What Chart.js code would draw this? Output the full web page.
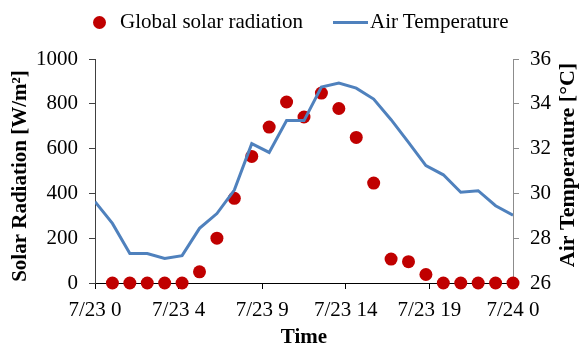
<!DOCTYPE html>
<html>
<head>
<meta charset="utf-8">
<script src="https://cdn.jsdelivr.net/npm/chart.js@4/dist/chart.umd.min.js"></script>
<style>
  body { margin: 0; background: #fff; }
  #wrap { position: relative; width: 579px; height: 344px; }
  #legend { position: absolute; left: 0; top: 0; width: 579px; height: 40px;
    font-family: "Liberation Serif", "Times New Roman", serif; font-size: 21px; color: #000; }
  #legend span { position: absolute; line-height: 21px; white-space: nowrap; }
  .dot { position: absolute; left: 93px; top: 16px; width: 13px; height: 13px;
    border-radius: 50%; background: #c00000; }
  .bar { position: absolute; left: 333px; top: 21px; width: 35px; height: 3px; background: #4f81bd; }
</style>
</head>
<body>
<div id="wrap">
  <canvas id="graph" width="579" height="344"></canvas>
  <div id="legend">
    <div class="dot"></div><span style="left:120px;top:11px">Global solar radiation</span>
    <div class="bar"></div><span style="left:370px;top:11px">Air Temperature</span>
  </div>
</div>
<script>
// hours from 7/23 0:00
const solarHours = [1, 2, 3, 4, 5, 6, 7, 8, 9, 10, 11, 12, 13, 14, 15, 16, 17, 18, 19, 20, 21, 22, 23, 24];
const solarRadiation = [0, 0, 0, 0, 0, 50, 200, 378, 565, 696, 808, 741, 848, 779, 650, 446, 107, 95, 38, 0, 0, 0, 0, 0];

const tempHours = [0, 1, 2, 3, 4, 5, 6, 7, 8, 9, 10, 11, 12, 13, 14, 15, 16, 17, 18, 19, 20, 21, 22, 23, 24];
const airTemperature = [29.63, 28.66, 27.32, 27.32, 27.1, 27.22, 28.44, 29.1, 30.15, 32.22, 31.83, 33.25, 33.25,
  34.75, 34.93, 34.7, 34.21, 33.29, 32.28, 31.24, 30.83, 30.05, 30.12, 29.45, 29.03];

const xTickValues = [0, 4.8, 9.6, 14.4, 19.2, 24];
const xTickLabels = ["7/23 0", "7/23 4", "7/23 9", "7/23 14", "7/23 19", "7/24 0"];

const serif = "'Liberation Serif', 'Times New Roman', serif";

// both vertical axis titles read bottom to top
const sideTitles = {
  id: "sideTitles",
  afterDraw(chart) {
    const ctx = chart.ctx;
    const titles = [
      { text: "Solar Radiation [W/m²]", x: 21, y: 176, size: 21 },
      { text: "Air Temperature [°C]", x: 568, y: 165, size: 22 },
    ];
    ctx.save();
    ctx.fillStyle = "#000";
    ctx.textAlign = "center";
    ctx.textBaseline = "middle";
    titles.forEach((t) => {
      ctx.save();
      ctx.font = "bold " + t.size + "px " + serif;
      ctx.translate(t.x, t.y);
      ctx.rotate(-Math.PI / 2);
      ctx.fillText(t.text, 0, 0);
      ctx.restore();
    });
    ctx.restore();
  },
};

function generateGraph() {
  const ctx = document.getElementById("graph").getContext("2d");
  new Chart(ctx, {
    data: {
      datasets: [
        {
          type: "line",
          label: "Air Temperature",
          data: tempHours.map((h, i) => ({ x: h, y: airTemperature[i] })),
          yAxisID: "y1",
          borderColor: "#4f81bd",
          borderWidth: 3,
          pointRadius: 0,
          tension: 0,
          order: 0,
        },
        {
          type: "scatter",
          label: "Global solar radiation",
          data: solarHours.map((h, i) => ({ x: h, y: solarRadiation[i] })),
          yAxisID: "y",
          backgroundColor: "#c00000",
          borderWidth: 0,
          pointRadius: 6.5,
          clip: false,
          order: 1,
        },
      ],
    },
    options: {
      responsive: false,
      animation: false,
      devicePixelRatio: 1,
      layout: { padding: { top: 59, left: 0, right: 0, bottom: 0 } },
      plugins: { legend: { display: false }, tooltip: { enabled: false } },
      scales: {
        x: {
          type: "linear",
          min: 0,
          max: 24,
          afterBuildTicks: (scale) => {
            scale.ticks = xTickValues.map((v) => ({ value: v }));
          },
          afterFit: (scale) => {
            scale.height = 61;
          },
          grid: { drawOnChartArea: false, color: "#000", tickLength: 6 },
          border: { color: "#000", width: 1 },
          ticks: {
            color: "#000",
            font: { family: serif, size: 21 },
            padding: 9,
            maxRotation: 0,
            autoSkip: false,
            callback: (value, index) => xTickLabels[index],
          },
          title: {
            display: true,
            text: "Time",
            color: "#000",
            font: { family: serif, size: 21, weight: "bold", lineHeight: 1 },
            padding: { top: 0, bottom: -4 },
          },
        },
        y: {
          position: "left",
          min: 0,
          max: 1000,
          afterFit: (scale) => {
            scale.width = 95;
          },
          grid: { drawOnChartArea: false, color: "#404040", tickLength: 6 },
          border: { color: "#404040", width: 1 },
          ticks: {
            stepSize: 200,
            color: "#000",
            font: { family: serif, size: 21 },
            padding: 11,
            callback: (value) => String(value),
          },
        },
        y1: {
          position: "right",
          min: 26,
          max: 36,
          afterFit: (scale) => {
            scale.width = 66;
          },
          grid: { drawOnChartArea: false, color: "#8c8c8c", tickLength: 6 },
          border: { color: "#8c8c8c", width: 1 },
          ticks: {
            stepSize: 2,
            color: "#000",
            font: { family: serif, size: 21 },
            padding: 11,
          },
        },
      },
    },
    plugins: [sideTitles],
  });
}

document.addEventListener("DOMContentLoaded", generateGraph);
</script>
</body>
</html>
